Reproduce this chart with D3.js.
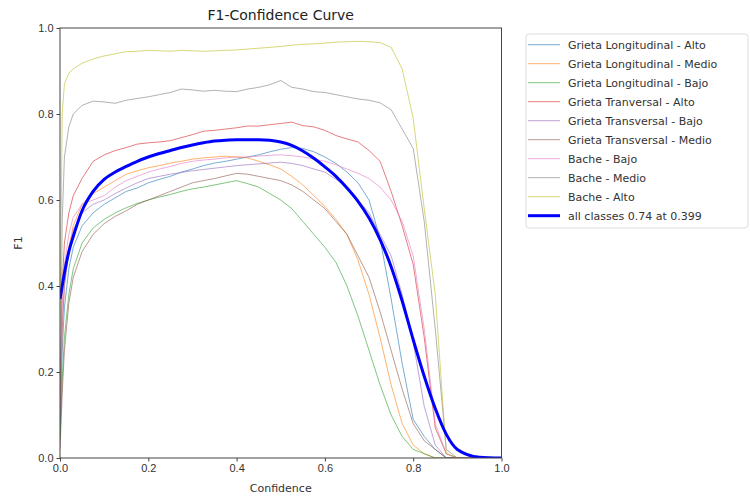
<!DOCTYPE html>
<html lang="en">
  <head>
    <meta charset="utf-8" />
    <title>F1-Confidence Curve</title>
    <script src="https://d3js.org/d3.v7.min.js"></script>
    <style>
      body {
        margin: 0;
        background: #fff;
      }
      svg {
        font-family: "DejaVu Sans", sans-serif;
      }
      .cls {
        fill: none;
        stroke-width: 1;
        stroke-opacity: 0.6;
      }
      .axis path, .axis line {
        stroke: #444;
      }
      .axis text {
        fill: #333;
        font-size: 11px;
      }
    </style>
  </head>
  <body>
    <svg width="750" height="501"></svg>
    <script>

    // confidence grid shared by all curves
    var conf = [0, 0.005, 0.01, 0.02, 0.03, 0.05, 0.075, 0.1, 0.125, 0.15, 0.175, 0.2, 0.225, 0.25, 0.275,
                0.3, 0.325, 0.35, 0.375, 0.4, 0.425, 0.45, 0.475, 0.5, 0.525, 0.55, 0.575, 0.6, 0.625, 0.65,
                0.675, 0.7, 0.725, 0.75, 0.775, 0.8, 0.825, 0.85, 0.875, 0.9, 0.95, 1.0];

    var classNames = [
      "Grieta Longitudinal - Alto",
      "Grieta Longitudinal - Medio",
      "Grieta Longitudinal - Bajo",
      "Grieta Tranversal - Alto",
      "Grieta Transversal - Bajo",
      "Grieta Transversal - Medio",
      "Bache - Bajo",
      "Bache - Medio",
      "Bache - Alto"
    ];

    var colours = ["#1f77b4", "#ff7f0e", "#2ca02c", "#d62728", "#9467bd",
                   "#8c564b", "#e377c2", "#7f7f7f", "#bcbd22"];

    var f1GLAlto = [0.05, 0.25, 0.35, 0.44, 0.49, 0.54, 0.57, 0.59, 0.605, 0.62, 0.628, 0.64, 0.648, 0.655, 0.665,
                    0.672, 0.68, 0.686, 0.69, 0.695, 0.70, 0.705, 0.712, 0.718, 0.722, 0.72, 0.712, 0.70, 0.685, 0.665,
                    0.64, 0.60, 0.51, 0.37, 0.22, 0.09, 0.05, 0.02, 0.0, 0.0, 0.0, 0.0];
    var f1GLMedio = [0.1, 0.3, 0.4, 0.49, 0.54, 0.59, 0.615, 0.63, 0.645, 0.66, 0.668, 0.675, 0.68, 0.686, 0.69,
                     0.695, 0.698, 0.70, 0.702, 0.70, 0.698, 0.69, 0.682, 0.672, 0.655, 0.635, 0.61, 0.585, 0.555, 0.52,
                     0.46, 0.38, 0.28, 0.17, 0.08, 0.03, 0.01, 0.0, 0.0, 0.0, 0.0, 0.0];
    var f1GLBajo = [0.04, 0.18, 0.28, 0.38, 0.44, 0.50, 0.535, 0.555, 0.57, 0.582, 0.592, 0.60, 0.607, 0.613, 0.62,
                    0.626, 0.63, 0.635, 0.64, 0.645, 0.638, 0.63, 0.615, 0.60, 0.58, 0.55, 0.52, 0.49, 0.455, 0.40,
                    0.33, 0.25, 0.17, 0.10, 0.05, 0.02, 0.01, 0.0, 0.0, 0.0, 0.0, 0.0];
    var f1GTAlto = [0.15, 0.40, 0.50, 0.57, 0.61, 0.65, 0.69, 0.705, 0.715, 0.722, 0.73, 0.733, 0.735, 0.738, 0.745,
                    0.752, 0.76, 0.762, 0.765, 0.768, 0.772, 0.772, 0.775, 0.778, 0.781, 0.773, 0.77, 0.762, 0.75, 0.742,
                    0.735, 0.715, 0.69, 0.62, 0.54, 0.45, 0.28, 0.07, 0.01, 0.0, 0.0, 0.0];
    var f1GTBajo = [0.08, 0.30, 0.40, 0.48, 0.53, 0.57, 0.59, 0.60, 0.615, 0.628, 0.64, 0.65, 0.655, 0.66, 0.664,
                    0.668, 0.671, 0.674, 0.677, 0.68, 0.682, 0.684, 0.686, 0.688, 0.685, 0.68, 0.672, 0.665, 0.648, 0.63,
                    0.60, 0.57, 0.52, 0.47, 0.38, 0.27, 0.12, 0.03, 0.0, 0.0, 0.0, 0.0];
    var f1GTMedio = [0.02, 0.15, 0.25, 0.36, 0.42, 0.48, 0.52, 0.545, 0.562, 0.575, 0.59, 0.60, 0.61, 0.62, 0.63,
                     0.64, 0.645, 0.65, 0.656, 0.662, 0.66, 0.655, 0.65, 0.645, 0.635, 0.62, 0.60, 0.58, 0.55, 0.52,
                     0.47, 0.42, 0.34, 0.25, 0.16, 0.08, 0.04, 0.02, 0.0, 0.0, 0.0, 0.0];
    var f1BBajo = [0.12, 0.35, 0.45, 0.52, 0.56, 0.59, 0.60, 0.61, 0.63, 0.645, 0.655, 0.665, 0.672, 0.678, 0.685,
                   0.69, 0.693, 0.695, 0.698, 0.70, 0.70, 0.702, 0.704, 0.705, 0.703, 0.70, 0.695, 0.69, 0.682, 0.672,
                   0.662, 0.65, 0.63, 0.60, 0.55, 0.47, 0.30, 0.08, 0.01, 0.0, 0.0, 0.0];
    var f1BMedio = [0.10, 0.55, 0.70, 0.77, 0.80, 0.82, 0.83, 0.828, 0.825, 0.832, 0.836, 0.84, 0.845, 0.85, 0.858,
                    0.856, 0.853, 0.855, 0.853, 0.852, 0.858, 0.862, 0.868, 0.878, 0.862, 0.858, 0.852, 0.85, 0.845, 0.84,
                    0.835, 0.832, 0.826, 0.81, 0.765, 0.72, 0.55, 0.30, 0.02, 0.0, 0.0, 0.0];
    var f1BAlto = [0.30, 0.80, 0.87, 0.895, 0.905, 0.918, 0.928, 0.935, 0.94, 0.945, 0.946, 0.948, 0.947, 0.946, 0.948,
                   0.947, 0.946, 0.947, 0.948, 0.949, 0.951, 0.953, 0.955, 0.957, 0.96, 0.962, 0.963, 0.965, 0.967, 0.968,
                   0.969, 0.968, 0.966, 0.955, 0.905, 0.79, 0.58, 0.38, 0.01, 0.0, 0.0, 0.0];
    var f1All = [0.37, 0.40, 0.43, 0.48, 0.515, 0.575, 0.62, 0.648, 0.665, 0.678, 0.69, 0.70, 0.708, 0.715, 0.722,
                 0.728, 0.733, 0.737, 0.739, 0.74, 0.74, 0.74, 0.739, 0.735, 0.727, 0.714, 0.697, 0.677, 0.655, 0.628,
                 0.597, 0.558, 0.508, 0.445, 0.365, 0.275, 0.19, 0.115, 0.055, 0.02, 0.002, 0.0];

    var allLabel = "all classes 0.74 at 0.399";

    var xTicks = [0, 0.2, 0.4, 0.6, 0.8, 1.0];
    var yTicks = [0, 0.2, 0.4, 0.6, 0.8, 1.0];

    var series = [f1GLAlto, f1GLMedio, f1GLBajo, f1GTAlto, f1GTBajo, f1GTMedio, f1BBajo, f1BMedio, f1BAlto];

    var svg = d3.select("svg"),
        margin = {top: 28, left: 60},
        width = 441.5,
        height = 430,
        g = svg.append("g").attr("transform", "translate(" + margin.left + "," + margin.top + ")");

    var x = d3.scaleLinear().domain([0, 1]).range([0, width]),
        y = d3.scaleLinear().domain([0, 1]).range([height, 0]);

    var line = d3.line()
        .x(function(d, i) { return x(conf[i]); })
        .y(function(d) { return y(d); });

    var smooth = d3.line()
        .curve(d3.curveMonotoneX)
        .x(function(d, i) { return x(conf[i]); })
        .y(function(d) { return y(d); });

    g.append("defs").append("clipPath").attr("id", "clip")
      .append("rect").attr("width", width).attr("height", height);

    var plot = g.append("g").attr("clip-path", "url(#clip)");

    plot.selectAll(".cls")
        .data(series)
        .enter().append("path")
        .attr("class", "cls")
        .attr("d", line)
        .style("stroke", function(d, i) { return colours[i]; });

    plot.append("path")
        .datum(f1All)
        .attr("fill", "none")
        .attr("stroke", "blue")
        .attr("stroke-width", 3)
        .attr("d", smooth);

    // axes
    g.append("g")
        .attr("class", "axis")
        .attr("transform", "translate(0," + height + ")")
        .call(d3.axisBottom(x).tickValues(xTicks).tickFormat(d3.format(".1f")).tickSize(3.5).tickPadding(3));

    g.append("g")
        .attr("class", "axis")
        .call(d3.axisLeft(y).tickValues(yTicks).tickFormat(d3.format(".1f")).tickSize(3.5).tickPadding(3));

    g.selectAll(".axis .domain").remove();

    // frame
    g.append("rect")
        .attr("width", width)
        .attr("height", height)
        .attr("fill", "none")
        .attr("stroke", "#444");

    svg.append("text")
        .attr("x", margin.left + width / 2)
        .attr("y", 20)
        .attr("text-anchor", "middle")
        .style("font-size", "14px")
        .style("fill", "#222")
        .text("F1-Confidence Curve");

    svg.append("text")
        .attr("x", margin.left + width / 2)
        .attr("y", 492)
        .attr("text-anchor", "middle")
        .style("font-size", "11px")
        .style("fill", "#333")
        .text("Confidence");

    svg.append("text")
        .attr("transform", "translate(22," + (margin.top + height / 2) + ") rotate(-90)")
        .attr("text-anchor", "middle")
        .style("font-size", "11px")
        .style("fill", "#333")
        .text("F1");

    // legend
    var legend = svg.append("g").attr("transform", "translate(526,34)");

    legend.append("rect")
        .attr("width", 222)
        .attr("height", 194)
        .attr("rx", 3)
        .attr("fill", "#fff")
        .attr("stroke", "#ddd");

    var items = classNames.map(function(n, i) { return {name: n, colour: colours[i], w: 1, op: 0.6}; });
    items.push({name: allLabel, colour: "blue", w: 3, op: 1});

    var item = legend.selectAll(".item")
        .data(items)
        .enter().append("g")
        .attr("class", "item")
        .attr("transform", function(d, i) { return "translate(0," + (10.7 + i * 19) + ")"; });

    item.append("line")
        .attr("x1", 2).attr("x2", 34)
        .attr("stroke", function(d) { return d.colour; })
        .attr("stroke-width", function(d) { return d.w; })
        .attr("stroke-opacity", function(d) { return d.op; });

    item.append("text")
        .attr("x", 42)
        .attr("dy", "0.35em")
        .style("font-size", "11px")
        .style("fill", "#333")
        .text(function(d) { return d.name; });

    </script>
  </body>
</html>
